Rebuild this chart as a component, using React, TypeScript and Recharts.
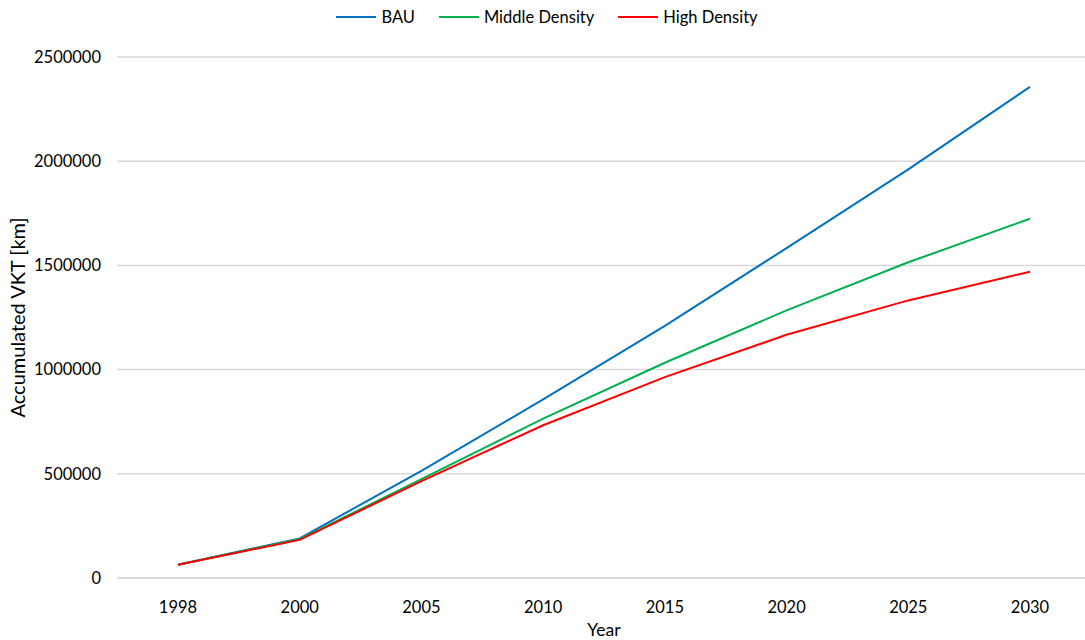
import React from 'react';
import { LineChart, Line, XAxis, YAxis, CartesianGrid, Legend } from 'recharts';

const years = ['1998', '2000', '2005', '2010', '2015', '2020', '2025', '2030'];
const bau = [64000, 190000, 514000, 857000, 1210000, 1583000, 1961000, 2357000];
const middle = [64000, 186000, 474000, 765000, 1033000, 1284000, 1515000, 1724000];
const high = [64000, 183000, 465000, 733000, 964000, 1167000, 1332000, 1470000];
const yTicks = [0, 500000, 1000000, 1500000, 2000000, 2500000];

const data = years.map((y, i) => ({ year: y, bau: bau[i], middle: middle[i], high: high[i] }));

const series = [
  { key: 'bau', name: 'BAU', color: '#0070C0' },
  { key: 'middle', name: 'Middle Density', color: '#00B050' },
  { key: 'high', name: 'High Density', color: '#FF0000' },
];

const FONT = 'Lato, "Open Sans", sans-serif';

const LegendContent = () => (
  <div style={{ display: 'flex', justifyContent: 'center', alignItems: 'center', height: 29, fontFamily: FONT, fontSize: 16.5, color: '#000', paddingLeft: 2 }}>
    {series.map((s, i) => (
      <div key={s.key} style={{ display: 'flex', alignItems: 'center', marginLeft: i === 0 ? 0 : 24, height: 24 }}>
        <div style={{ width: 40, height: 2, background: s.color, marginRight: 5 }} />
        <span>{s.name}</span>
      </div>
    ))}
  </div>
);

export default function App() {
  return (
    <div style={{ position: 'fixed', left: 0, top: 0, width: 1085, height: 640, overflow: 'hidden', background: '#fff' }}>
      <LineChart width={1092} height={640} data={data} margin={{ top: 28, right: 1, bottom: 0, left: 0 }} style={{ fontFamily: FONT }}>
        <CartesianGrid vertical={false} stroke="#d9d9d9" strokeWidth={1.5} />
        <Legend verticalAlign="top" align="center" wrapperStyle={{ top: 2, left: 0, width: 1092 }} content={<LegendContent />} />
        <XAxis
          dataKey="year"
          padding={{ left: 61, right: 61 }}
          tickLine={false}
          axisLine={{ stroke: '#d9d9d9', strokeWidth: 1.5 }}
          tick={{ fill: '#000', fontSize: 16.5, fontFamily: FONT }}
          tickMargin={17}
          height={62}
          label={{ value: 'Year', position: 'insideBottom', offset: 4, fill: '#000', fontSize: 17.5, fontFamily: FONT }}
        />
        <YAxis
          domain={[0, 2500000]}
          ticks={yTicks}
          interval={0}
          width={117}
          tickLine={false}
          axisLine={false}
          tick={{ fill: '#000', fontSize: 16.5, fontFamily: FONT }}
          tickMargin={16}
          tickSize={0}
          label={{ value: 'Accumulated VKT [km]', angle: -90, position: 'insideLeft', offset: 18, fill: '#000', fontSize: 20, fontFamily: FONT, style: { textAnchor: 'middle' } }}
        />
        {series.map((s) => (
          <Line key={s.key} type="linear" dataKey={s.key} name={s.name} stroke={s.color} strokeWidth={2} dot={false} activeDot={false} isAnimationActive={false} />
        ))}
      </LineChart>
    </div>
  );
}
